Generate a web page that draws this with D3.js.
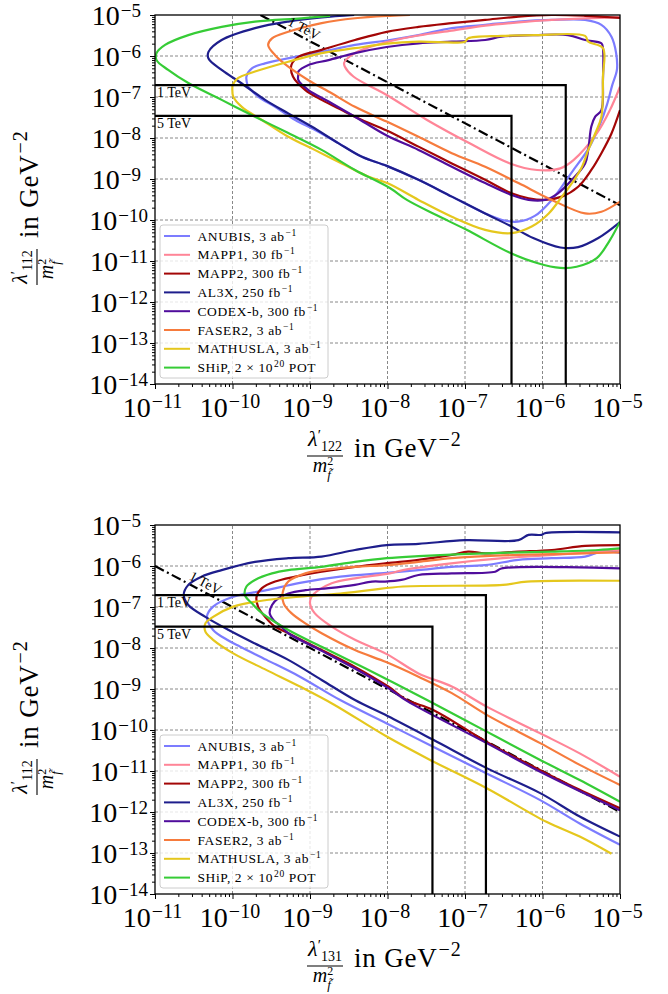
<!DOCTYPE html>
<html>
<head>
<meta charset="utf-8">
<script src="https://d3js.org/d3.v7.min.js"></script>
<style>
  body { margin: 0; background: #fff; }
  text { font-family: "Liberation Serif", "DejaVu Serif", serif; fill: #000; }
</style>
</head>
<body>
<script>
// legend entries
const detectors = ["ANUBIS", "MAPP1", "MAPP2", "AL3X", "CODEX-b", "FASER2", "MATHUSLA", "SHiP"];
const lumiText = ["3 ab", "30 fb", "300 fb", "250 fb", "300 fb", "3 ab", "3 ab", "2 \u00d7 10"];
const lumiSup = ["\u22121", "\u22121", "\u22121", "\u22121", "\u22121", "\u22121", "\u22121", "20"];
const lumiTail = ["", "", "", "", "", "", "", " POT"];
const colors = ["#7c7cff", "#ff8597", "#a30606", "#1e1e8c", "#500d9c", "#f67b3d", "#e5c71d", "#36cc36"];

// axis ticks (log10 exponents)
const xTickExp = [-11, -10, -9, -8, -7, -6, -5];
const yTickExp = [-14, -13, -12, -11, -10, -9, -8, -7, -6, -5];

// sensitivity curves, points are [log10 x, log10 y]
// top panel: x = lambda'_122 / m^2
const anubis122 = [[-9.80,-6.75],[-9.82,-6.50],[-9.75,-6.30],[-9.58,-6.18],[-9.19,-6.02],[-8.85,-5.90],[-8.42,-5.73],[-7.97,-5.61],[-7.60,-5.49],[-7.17,-5.32],[-6.74,-5.24],[-6.31,-5.16],[-5.88,-5.12],[-5.45,-5.12],[-5.24,-5.24],[-5.11,-5.53],[-5.05,-5.93],[-5.04,-6.34],[-5.10,-6.71],[-5.17,-7.20],[-5.26,-7.68],[-5.40,-8.24],[-5.62,-8.83],[-5.88,-9.51],[-6.10,-9.90],[-6.32,-10.04],[-6.52,-10.00],[-6.74,-9.84],[-7.17,-9.43],[-7.60,-9.02],[-8.01,-8.68],[-8.33,-8.46],[-8.63,-8.13],[-8.94,-7.80],[-9.19,-7.56],[-9.45,-7.24],[-9.67,-6.99],[-9.80,-6.75]];
const mapp1_122 = [[-5.00,-5.06],[-5.45,-5.08],[-5.88,-5.12],[-6.31,-5.18],[-6.74,-5.26],[-7.17,-5.38],[-7.60,-5.50],[-7.97,-5.64],[-8.29,-5.82],[-8.48,-6.00],[-8.56,-6.17],[-8.55,-6.26],[-8.44,-6.50],[-8.01,-6.95],[-7.49,-7.56],[-6.94,-8.13],[-6.42,-8.62],[-6.07,-8.78],[-5.77,-8.74],[-5.60,-8.54],[-5.30,-7.89],[-5.13,-7.32],[-5.00,-6.75]];
const mapp2_122 = [[-5.00,-5.07],[-5.45,-5.02],[-5.88,-5.00],[-6.31,-5.04],[-6.74,-5.12],[-7.17,-5.20],[-7.60,-5.29],[-8.01,-5.41],[-8.42,-5.61],[-8.85,-5.85],[-9.15,-6.02],[-9.24,-6.22],[-9.22,-6.50],[-9.06,-6.83],[-8.85,-7.07],[-8.59,-7.32],[-8.33,-7.56],[-8.01,-7.82],[-7.60,-8.21],[-7.17,-8.62],[-6.74,-9.02],[-6.40,-9.35],[-6.18,-9.47],[-5.97,-9.51],[-5.75,-9.43],[-5.54,-9.19],[-5.37,-8.78],[-5.24,-8.37],[-5.11,-7.89],[-5.00,-7.32]];
const al3x122 = [[-8.43,-5.00],[-8.85,-5.06],[-9.28,-5.16],[-9.71,-5.32],[-10.14,-5.61],[-10.31,-5.90],[-10.31,-6.06],[-10.14,-6.34],[-9.88,-6.67],[-9.58,-7.07],[-9.28,-7.40],[-8.98,-7.72],[-8.63,-8.13],[-8.33,-8.46],[-8.01,-8.68],[-7.60,-9.02],[-7.17,-9.43],[-6.74,-9.84],[-6.40,-10.16],[-6.12,-10.44],[-5.77,-10.67],[-5.54,-10.66],[-5.28,-10.44],[-5.00,-10.05]];
const codexb122 = [[-9.15,-6.46],[-9.15,-6.38],[-9.02,-6.22],[-8.76,-6.10],[-8.42,-5.93],[-8.01,-5.78],[-7.60,-5.69],[-7.17,-5.65],[-6.74,-5.61],[-6.53,-5.53],[-6.10,-5.49],[-5.67,-5.49],[-5.45,-5.61],[-5.24,-5.69],[-5.22,-5.81],[-5.22,-6.59],[-5.24,-7.32],[-5.32,-7.48],[-5.37,-7.72],[-5.41,-8.29],[-5.45,-8.62],[-5.62,-9.02],[-5.80,-9.35],[-5.97,-9.51],[-6.18,-9.51],[-6.40,-9.39],[-6.74,-9.10],[-7.17,-8.70],[-7.60,-8.29],[-8.01,-7.94],[-8.42,-7.48],[-8.76,-7.11],[-9.02,-6.83],[-9.15,-6.59],[-9.15,-6.46]];
const faser2_122 = [[-7.71,-5.00],[-7.97,-5.02],[-8.42,-5.08],[-8.85,-5.20],[-9.28,-5.41],[-9.49,-5.57],[-9.54,-5.73],[-9.45,-5.98],[-9.28,-6.26],[-9.02,-6.59],[-8.72,-6.91],[-8.42,-7.24],[-8.01,-7.60],[-7.60,-7.97],[-7.17,-8.37],[-6.74,-8.70],[-6.31,-9.10],[-5.88,-9.51],[-5.45,-9.84],[-5.24,-9.80],[-5.00,-9.55]];
const mathusla122 = [[-10.00,-6.71],[-9.93,-6.54],[-9.71,-6.38],[-9.28,-6.14],[-8.85,-5.93],[-8.42,-5.81],[-8.01,-5.70],[-7.60,-5.65],[-7.00,-5.65],[-6.96,-5.57],[-6.53,-5.51],[-6.10,-5.49],[-5.45,-5.51],[-5.41,-5.65],[-5.22,-5.81],[-5.22,-6.50],[-5.24,-7.48],[-5.32,-7.89],[-5.41,-8.29],[-5.49,-8.70],[-5.62,-9.10],[-5.75,-9.43],[-5.92,-9.84],[-6.14,-10.16],[-6.40,-10.32],[-6.74,-10.24],[-7.17,-9.92],[-7.60,-9.51],[-7.99,-9.11],[-8.25,-8.94],[-8.59,-8.62],[-8.94,-8.29],[-9.28,-7.97],[-9.62,-7.56],[-9.88,-7.24],[-9.99,-6.99],[-10.00,-6.71]];
const ship122 = [[-8.74,-5.02],[-9.11,-5.08],[-9.71,-5.16],[-10.14,-5.29],[-10.57,-5.49],[-10.87,-5.73],[-10.98,-5.93],[-10.98,-6.10],[-10.83,-6.34],[-10.57,-6.66],[-10.14,-7.07],[-9.71,-7.48],[-9.28,-7.88],[-8.85,-8.29],[-8.42,-8.78],[-7.97,-9.22],[-7.75,-9.51],[-7.37,-9.88],[-6.98,-10.24],[-6.42,-10.80],[-6.07,-11.05],[-5.77,-11.17],[-5.56,-11.14],[-5.30,-10.93],[-5.13,-10.49],[-5.00,-10.04]];

// bottom panel: x = lambda'_131 / m^2
const anubis131 = [[-5.00,-5.68],[-5.24,-5.65],[-5.45,-5.77],[-5.88,-5.81],[-6.31,-5.85],[-6.74,-5.98],[-7.17,-6.02],[-7.60,-6.10],[-8.01,-6.17],[-8.61,-6.26],[-9.13,-6.41],[-9.56,-6.59],[-9.99,-6.75],[-10.25,-6.99],[-10.33,-7.24],[-10.25,-7.56],[-10.07,-7.80],[-9.90,-7.97],[-9.56,-8.29],[-9.13,-8.70],[-8.61,-9.27],[-8.01,-9.84],[-7.45,-10.37],[-6.72,-11.06],[-6.03,-11.71],[-5.52,-12.28],[-5.00,-12.80]];
const mapp1_131 = [[-5.00,-5.61],[-5.86,-5.73],[-6.51,-5.81],[-7.15,-5.93],[-7.80,-6.10],[-7.97,-6.18],[-8.42,-6.30],[-8.72,-6.42],[-8.89,-6.59],[-8.98,-6.75],[-9.00,-6.91],[-8.94,-7.15],[-8.72,-7.48],[-8.42,-7.80],[-8.01,-8.15],[-7.60,-8.62],[-7.17,-8.94],[-6.72,-9.43],[-6.03,-10.08],[-5.52,-10.57],[-5.00,-11.14]];
const mapp2_131 = [[-5.00,-5.49],[-5.45,-5.51],[-5.88,-5.61],[-6.31,-5.65],[-6.74,-5.69],[-6.96,-5.65],[-7.17,-5.73],[-7.60,-5.85],[-8.01,-5.93],[-8.42,-6.02],[-8.85,-6.14],[-9.19,-6.26],[-9.45,-6.38],[-9.62,-6.54],[-9.69,-6.75],[-9.67,-6.99],[-9.58,-7.24],[-9.45,-7.48],[-9.28,-7.64],[-8.85,-8.05],[-8.42,-8.46],[-7.99,-8.94],[-7.75,-9.27],[-7.41,-9.51],[-6.72,-10.29],[-6.03,-10.98],[-5.52,-11.46],[-5.00,-11.91]];
const al3x131 = [[-5.00,-5.18],[-5.97,-5.20],[-6.01,-5.24],[-6.18,-5.24],[-6.31,-5.37],[-7.00,-5.37],[-7.60,-5.46],[-8.01,-5.49],[-8.42,-5.61],[-8.85,-5.77],[-9.28,-5.81],[-9.71,-5.90],[-10.14,-6.10],[-10.40,-6.26],[-10.57,-6.46],[-10.63,-6.71],[-10.57,-6.95],[-10.35,-7.24],[-10.05,-7.56],[-9.71,-7.89],[-9.28,-8.29],[-8.85,-8.78],[-8.42,-9.27],[-8.00,-9.66],[-7.41,-10.24],[-6.72,-10.93],[-6.03,-11.54],[-5.52,-12.11],[-5.00,-12.60]];
const codexb131 = [[-5.00,-6.06],[-6.53,-6.06],[-6.61,-6.14],[-7.17,-6.18],[-7.60,-6.22],[-7.82,-6.34],[-8.03,-6.38],[-8.20,-6.38],[-8.42,-6.46],[-8.76,-6.54],[-9.06,-6.59],[-9.28,-6.67],[-9.41,-6.79],[-9.49,-6.95],[-9.52,-7.15],[-9.47,-7.32],[-9.37,-7.48],[-9.28,-7.64],[-8.85,-8.07],[-8.42,-8.50],[-7.99,-8.98],[-7.75,-9.29],[-6.72,-10.32],[-6.03,-11.02],[-5.00,-11.96]];
const faser2_131 = [[-5.00,-5.67],[-5.45,-5.69],[-6.31,-5.73],[-6.74,-5.76],[-7.17,-5.81],[-7.60,-5.90],[-8.01,-5.98],[-8.42,-6.02],[-8.85,-6.10],[-9.06,-6.18],[-9.28,-6.38],[-9.35,-6.63],[-9.34,-6.91],[-9.24,-7.15],[-9.06,-7.40],[-8.85,-7.64],[-8.42,-8.05],[-8.01,-8.35],[-7.60,-8.70],[-7.17,-9.10],[-6.72,-9.63],[-6.03,-10.32],[-5.52,-10.85],[-5.00,-11.34]];
const mathusla131 = [[-5.00,-6.36],[-6.20,-6.38],[-6.51,-6.46],[-7.80,-6.50],[-8.23,-6.59],[-8.61,-6.67],[-9.13,-6.75],[-9.56,-6.83],[-9.99,-6.99],[-10.25,-7.24],[-10.35,-7.40],[-10.35,-7.60],[-10.25,-7.80],[-9.99,-8.13],[-9.56,-8.54],[-9.13,-8.94],[-8.70,-9.37],[-8.01,-10.16],[-7.45,-10.73],[-6.72,-11.42],[-5.95,-12.24],[-5.52,-12.60],[-5.11,-13.02]];
const ship131 = [[-5.00,-5.57],[-5.28,-5.61],[-5.88,-5.65],[-6.74,-5.69],[-7.60,-5.76],[-8.01,-5.81],[-8.42,-5.90],[-8.85,-6.02],[-9.28,-6.10],[-9.49,-6.18],[-9.71,-6.34],[-9.82,-6.50],[-9.84,-6.71],[-9.75,-6.91],[-9.62,-7.15],[-9.28,-7.56],[-8.85,-7.97],[-8.42,-8.37],[-7.99,-8.78],[-7.49,-9.27],[-6.72,-10.04],[-6.03,-10.73],[-5.52,-11.22],[-5.00,-11.75]];

// mass limits: [log10 x corner, log10 y corner] for 1 TeV and 5 TeV
const limitNames = ["1 TeV", "5 TeV"];
const limits122 = [[-5.70, -6.71], [-6.40, -7.46]];
const limits131 = [[-6.73, -6.71], [-7.42, -7.48]];
// 1 TeV diagonal (log10 x + log10 y = const), end points
const diag122 = [[-9.64, -5.00], [-5.00, -9.64]];
const diag131 = [[-11.00, -6.00], [-5.00, -12.00]];

const W = 668, H = 994;
const pow = v => Math.pow(10, v);
const svg = d3.select("body").append("svg").attr("width", W).attr("height", H);

function supText(sel, base, sup, tail, bs, ss, rise) {
  sel.append("tspan").attr("font-size", bs).text(base);
  sel.append("tspan").attr("font-size", ss).attr("dy", -rise).attr("dx", 1).text(sup);
  if (tail) sel.append("tspan").attr("font-size", bs).attr("dy", rise).text(tail);
}

function fracLabel(g, sub) {
  g.append("line").attr("x1", 0).attr("x2", 36).attr("stroke", "#000").attr("stroke-width", 1.1);
  // numerator and denominator as two chunks of one text
  const fr = g.append("text").attr("text-anchor", "middle");
  fr.append("tspan").attr("x", 18).attr("y", -10).attr("font-style", "italic").attr("font-size", 22).text("\u03bb");
  fr.append("tspan").attr("font-size", 15).attr("dy", -6).text("\u2032");
  fr.append("tspan").attr("font-size", 14).attr("dy", 11).text(sub);
  fr.append("tspan").attr("x", 16).attr("y", 16).attr("font-style", "italic").attr("font-size", 20).text("m");
  fr.append("tspan").attr("font-size", 12).attr("dy", -7).text("2");
  fr.append("tspan").attr("font-style", "italic").attr("font-size", 13).attr("dx", -6).attr("dy", 14.3).text("f\u0303");
  const t = g.append("text").attr("x", 47).attr("y", 1).attr("font-size", 27).attr("letter-spacing", 0.8);
  supText(t, "in GeV", "\u22122", "", 27, 20, 11);
}

function drawPanel(top, curves, limits, diag, diagLabelX, sub) {
  const x = d3.scaleLog().domain([1e-11, 1e-5]).range([155, 620]);
  const y = d3.scaleLog().domain([1e-14, 1e-5]).range([top + 369, top]);
  const g = svg.append("g");
  const clipId = "clip" + top;
  svg.append("clipPath").attr("id", clipId).append("rect")
    .attr("x", 155).attr("y", top).attr("width", 465).attr("height", 369);

  // grid
  g.append("g").selectAll("line").data(xTickExp.slice(1, -1)).join("line")
    .attr("x1", d => x(pow(d))).attr("x2", d => x(pow(d)))
    .attr("y1", y(1e-14)).attr("y2", y(1e-5))
    .attr("stroke", "#6a6a6a").attr("stroke-width", 0.8).attr("stroke-dasharray", "3,2");
  g.append("g").selectAll("line").data(yTickExp.slice(1, -1)).join("line")
    .attr("y1", d => y(pow(d))).attr("y2", d => y(pow(d)))
    .attr("x1", x(1e-11)).attr("x2", x(1e-5))
    .attr("stroke", "#6a6a6a").attr("stroke-width", 0.8).attr("stroke-dasharray", "3,2");

  // ticks
  const minorX = [], minorY = [];
  xTickExp.slice(0, -1).forEach(e => { for (let k = 2; k < 10; k++) minorX.push(k * pow(e)); });
  yTickExp.slice(0, -1).forEach(e => { for (let k = 2; k < 10; k++) minorY.push(k * pow(e)); });
  const ax = [
    g.append("g").attr("transform", `translate(0,${top + 369})`)
      .call(d3.axisBottom(x).tickValues(xTickExp.map(pow)).tickSize(5).tickFormat("")),
    g.append("g").attr("transform", `translate(0,${top + 369})`)
      .call(d3.axisBottom(x).tickValues(minorX).tickSize(3).tickFormat("")),
    g.append("g").attr("transform", "translate(155,0)")
      .call(d3.axisLeft(y).tickValues(yTickExp.map(pow)).tickSize(5).tickFormat("")),
    g.append("g").attr("transform", "translate(155,0)")
      .call(d3.axisLeft(y).tickValues(minorY).tickSize(3).tickFormat(""))
  ];
  ax.forEach(a => { a.select(".domain").remove(); a.selectAll("line").attr("stroke-width", 1); });

  // tick labels
  g.append("g").selectAll("text").data(xTickExp).join("text")
    .attr("x", d => x(pow(d)) - 2.5).attr("y", top + 369 + 33).attr("text-anchor", "middle")
    .each(function(d) { supText(d3.select(this), "10", "\u2212" + (-d), "", 28, 20, 9); });
  g.append("g").selectAll("text").data(yTickExp).join("text")
    .attr("x", d => d <= -10 ? 148 : 141).attr("y", d => y(pow(d)) + 9.5).attr("text-anchor", "end")
    .each(function(d) { supText(d3.select(this), "10", "\u2212" + (-d), "", 28, 19, 7.5); });

  const plot = g.append("g").attr("clip-path", `url(#${clipId})`);
  const line = d3.line().x(d => x(pow(d[0]))).y(d => y(pow(d[1])));

  // 1 TeV diagonal
  plot.append("path").attr("d", line(diag)).attr("fill", "none")
    .attr("stroke", "#000").attr("stroke-width", 2.2).attr("stroke-dasharray", "10,3.5,2,3.5");

  // curves
  const smooth = d3.line().x(d => x(pow(d[0]))).y(d => y(pow(d[1])))
    .curve(d3.curveCatmullRom.alpha(0.5));
  curves.forEach((c, i) => {
    plot.append("path").attr("d", smooth(c)).attr("fill", "none")
      .attr("stroke", colors[i]).attr("stroke-width", 2.2).attr("stroke-linejoin", "round");
  });

  // mass limit boxes
  limits.forEach((l, i) => {
    const px = x(pow(l[0])), py = y(pow(l[1]));
    plot.append("path")
      .attr("d", `M${x(1e-11)},${py}H${px}V${y(1e-14)}`)
      .attr("fill", "none").attr("stroke", "#000").attr("stroke-width", 2.2);
    g.append("text").attr("x", 157).attr("y", py + 12).attr("font-size", 14)
      .attr("fill", "#222").text(limitNames[i]);
  });

  // diagonal label
  const s = diag[0][0] + diag[0][1];
  const p0 = [x(pow(diagLabelX)), y(pow(s - diagLabelX))];
  const p1 = [x(pow(diagLabelX + 1)), y(pow(s - diagLabelX - 1))];
  const ang = Math.atan2(p1[1] - p0[1], p1[0] - p0[0]) * 180 / Math.PI;
  g.append("text").attr("transform", `translate(${p0[0]},${p0[1]}) rotate(${ang}) translate(0,-4)`)
    .attr("text-anchor", "middle").attr("font-size", 14).attr("fill", "#222").text("1 TeV");

  // frame
  g.append("rect").attr("x", 155).attr("y", top).attr("width", 465).attr("height", 369)
    .attr("fill", "none").attr("stroke", "#000").attr("stroke-width", 1.3);

  // legend
  const lg = g.append("g").attr("transform", `translate(160,${top + 210})`);
  lg.append("rect").attr("width", 168).attr("height", 153).attr("rx", 3)
    .attr("fill", "#fff").attr("fill-opacity", 0.8).attr("stroke", "#cccccc");
  detectors.forEach((d, i) => {
    const yy = 11 + i * 18.8;
    lg.append("line").attr("x1", 4).attr("x2", 30).attr("y1", yy).attr("y2", yy)
      .attr("stroke", colors[i]).attr("stroke-width", 2);
    const t = lg.append("text").attr("x", 37.5).attr("y", yy + 4.5).attr("letter-spacing", 0.6);
    supText(t, d + ", " + lumiText[i], lumiSup[i], lumiTail[i], 13.5, 9.5, 5);
  });

  // axis labels
  fracLabel(g.append("g").attr("transform", `translate(307,${top + 441})`), sub);
  fracLabel(g.append("g").attr("transform", `translate(37,${top + 270}) rotate(-90)`), "112");
}

drawPanel(15, [anubis122, mapp1_122, mapp2_122, al3x122, codexb122, faser2_122, mathusla122, ship122],
  limits122, diag122, -9.13, "122");
drawPanel(525, [anubis131, mapp1_131, mapp2_131, al3x131, codexb131, faser2_131, mathusla131, ship131],
  limits131, diag131, -10.40, "131");
</script>
</body>
</html>
